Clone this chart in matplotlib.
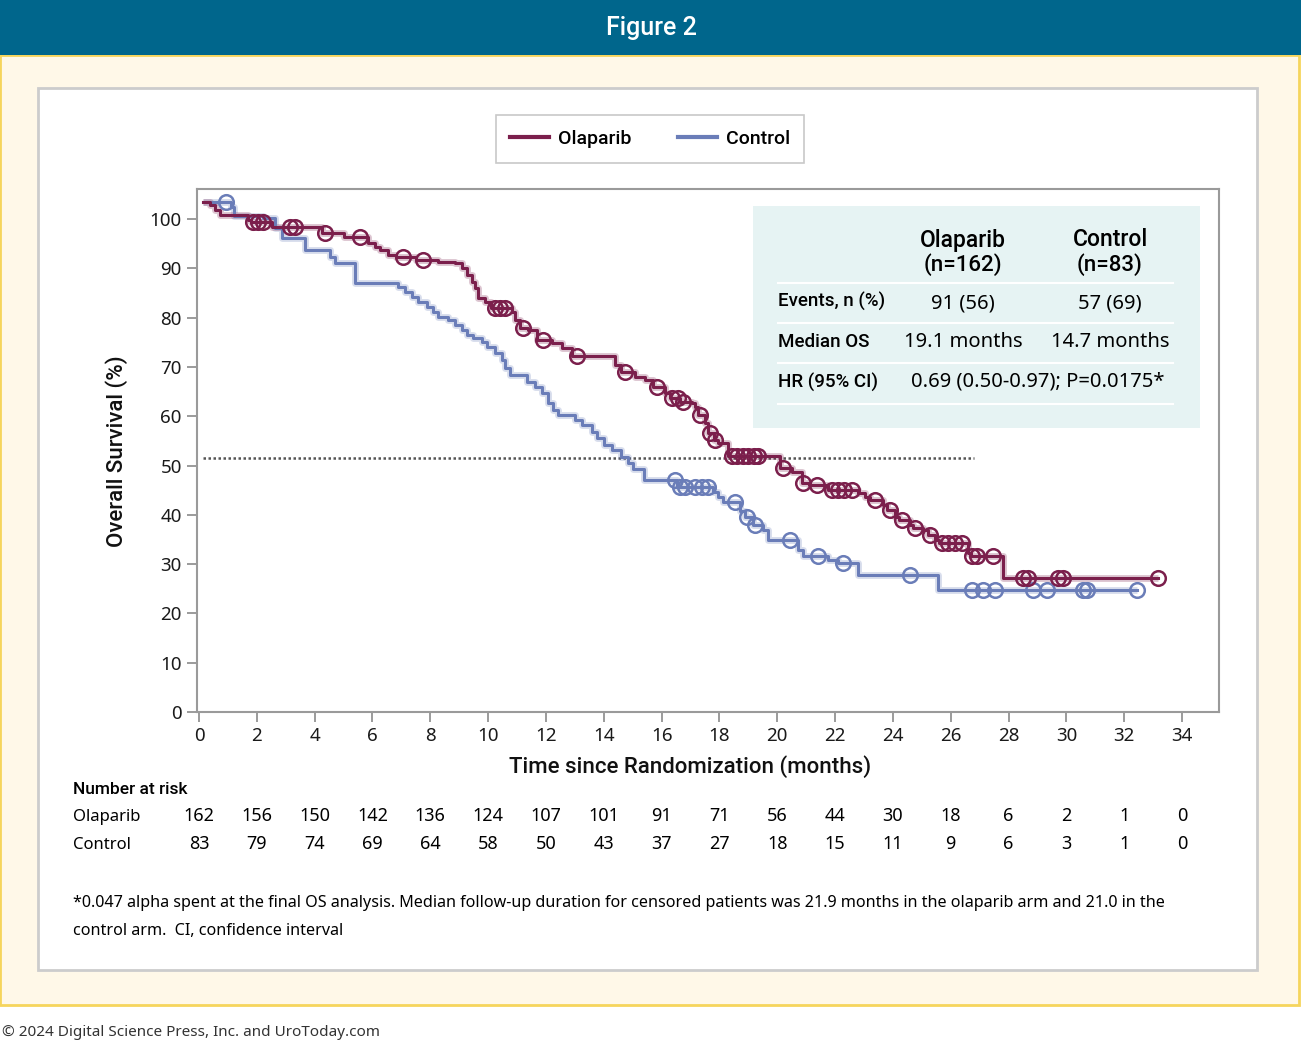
import numpy as np
import matplotlib
matplotlib.use("Agg")
import matplotlib.pyplot as plt
from matplotlib.patches import Rectangle
from matplotlib.lines import Line2D
from matplotlib.transforms import blended_transform_factory

plt.rcParams['font.family'] = ['Noto Sans', 'DejaVu Sans']

# ---------------- data ----------------
start_level = 103.4

ola_times = [0.38, 0.55, 0.73, 1.69, 1.8, 2.53, 4.25, 5.0, 5.85, 6.09, 6.26, 6.54, 6.8, 7.5, 8.27,
             8.86, 9.10, 9.27, 9.44, 9.55, 9.65, 9.89, 10.1, 10.83, 10.93, 11.1, 11.38, 11.7, 12.21, 12.56,
             12.9, 14.39, 14.6, 15.08, 15.43, 15.7, 16.12, 16.3, 16.65, 17.05, 17.16, 17.25, 17.50, 17.6, 17.8,
             17.95, 18.30, 20.1, 20.51, 20.86, 21.1, 21.76, 22.80, 23.04, 23.2, 23.66, 23.8, 24.07, 24.2, 24.59,
             24.7, 25.04, 25.2, 25.46, 25.6, 26.60, 26.7, 27.81]
ola_surv = [102.8, 101.8, 100.9, 99.8, 99.4, 98.4, 97.2, 96.4, 95.1, 94.3, 93.7, 92.7, 92.3, 91.7, 91.3,
            91.1, 90.1, 88.6, 87.2, 86.0, 84.0, 83.2, 81.9, 81.1, 79.5, 77.9, 77.5, 75.5, 74.8, 73.8,
            72.2, 70.4, 69.0, 68.0, 67.3, 65.9, 64.7, 63.8, 62.9, 62.7, 61.9, 60.2, 58.6, 56.6, 55.2,
            54.6, 52.0, 49.6, 48.7, 46.5, 46.0, 45.0, 44.4, 43.6, 43.0, 42.0, 41.0, 39.6, 38.9, 37.9,
            37.3, 36.9, 35.9, 34.9, 34.3, 32.3, 31.6, 27.2]
ola_censored = [1.87, 2.04, 2.21, 3.15, 3.32, 4.36, 5.57, 7.06, 7.75, 10.24, 10.40, 10.58, 11.21, 11.90,
                13.07, 14.74, 15.84, 16.36, 16.57, 16.74, 17.33, 17.68, 17.85, 18.44, 18.6, 18.8, 19.0,
                19.2, 19.34, 20.20, 20.89, 21.38, 21.90, 22.1, 22.3, 22.59, 23.38, 23.90, 24.32, 24.77,
                25.29, 25.70, 25.91, 26.15, 26.39, 26.74, 26.91, 27.46, 28.50, 28.68, 29.71, 29.89, 33.17]

ctrl_times = [1.1, 1.2, 2.2, 2.63, 2.87, 3.67, 4.53, 4.70, 5.40, 6.88, 7.13, 7.37, 7.58, 7.89, 8.09,
              8.27, 8.61, 8.86, 9.10, 9.27, 9.48, 9.79, 9.96, 10.24, 10.48, 10.58, 10.76, 11.35, 11.62, 11.86,
              12.07, 12.24, 12.42, 13.01, 13.25, 13.59, 13.77, 14.0, 14.3, 14.6, 14.84, 15.0, 15.4, 16.55,
              17.78, 17.95, 18.13, 18.71, 18.9, 19.15, 19.51, 19.68, 20.72, 20.9, 21.76, 22.1, 22.8, 25.56]
ctrl_surv = [102.4, 100.6, 100.2, 98.2, 96.1, 93.7, 92.3, 91.1, 87.0, 86.2, 85.2, 84.2, 83.2, 82.2, 81.1,
             80.1, 79.5, 78.5, 77.5, 76.5, 75.9, 75.1, 74.0, 72.8, 71.4, 69.8, 68.4, 66.9, 65.9, 64.7,
             62.7, 61.3, 60.2, 59.2, 58.2, 56.8, 55.6, 54.2, 53.1, 51.7, 50.5, 49.3, 47.1, 45.6,
             44.6, 43.6, 42.6, 40.8, 39.6, 37.9, 36.9, 34.9, 32.9, 31.6, 30.8, 30.2, 27.8, 24.8]
ctrl_censored = [0.93, 16.47, 16.64, 16.81, 17.16, 17.4, 17.6, 18.54, 18.96, 19.23, 20.44, 21.4, 22.28,
                 24.59, 26.74, 27.12, 27.53, 28.85, 29.33, 30.58, 30.72, 32.45]

median_ref_level = 51.5
median_ref_end = 26.8

risk_times = [0, 2, 4, 6, 8, 10, 12, 14, 16, 18, 20, 22, 24, 26, 28, 30, 32, 34]
risk_ola = [162, 156, 150, 142, 136, 124, 107, 101, 91, 71, 56, 44, 30, 18, 6, 2, 1, 0]
risk_ctrl = [83, 79, 74, 69, 64, 58, 50, 43, 37, 27, 18, 15, 11, 9, 6, 3, 1, 0]

x_ticks = list(range(0, 35, 2))
y_ticks = list(range(0, 101, 10))

OLA_C = '#7b1f4c'
CTRL_C = '#6a7db8'

W, H = 1301, 1043
fig = plt.figure(figsize=(W / 100, H / 100), dpi=100)
fig.patch.set_facecolor('white')

def fx(px):
    return px / W

def fy(py):
    return 1 - py / H

MED = dict(family=['Roboto', 'DejaVu Sans'], weight='medium')

# background panels
fig.patches.append(Rectangle((0, fy(1005)), fx(1299), fy(55) - fy(1005), transform=fig.transFigure,
                             facecolor='#fff8e8', edgecolor='#f6d55c', lw=2, zorder=-10))
fig.patches.append(Rectangle((0, fy(55)), 1, 55 / H, transform=fig.transFigure,
                             facecolor='#00668c', edgecolor='none', zorder=-9))
fig.patches.append(Rectangle((fx(38), fy(970)), fx(1257) - fx(38), fy(88) - fy(970), transform=fig.transFigure,
                             facecolor='white', edgecolor='#cccccc', lw=2, zorder=-8))
fig.text(fx(651), fy(28), 'Figure 2', color='white', fontsize=18, ha='center', va='center', **MED)

# main axes
ax = fig.add_axes([fx(197), fy(712), fx(1219) - fx(197), fy(189) - fy(712)])
ax.set_xlim(-0.07, 35.28)
ax.set_ylim(0, 106.1)
for s in ax.spines.values():
    s.set_color('#9a9a9a')
    s.set_linewidth(1.5)
ax.set_xticks(x_ticks)
ax.set_yticks(y_ticks)
ax.tick_params(direction='out', length=7, width=1.2, color='#8a8a8a', labelsize=13.5, labelcolor='#1a1a1a', pad=4)


def km_curve(times, surv, cens, color):
    end = max(cens[-1], times[-1])
    xs = np.concatenate([[0.14], times, [end]])
    ys = np.concatenate([[start_level], surv, [surv[-1]]])
    ax.plot(xs, ys, drawstyle='steps-post', color=color, lw=5, alpha=0.25, solid_capstyle='butt', zorder=2)
    ax.plot(xs, ys, drawstyle='steps-post', color=color, lw=2.2, zorder=3)
    levels = np.concatenate([[start_level], surv])
    idx = np.searchsorted(np.asarray(times), np.asarray(cens), side='right')
    cy = levels[idx]
    ax.plot(cens, cy, linestyle='none', marker='o', ms=10.5, mfc='none', mec=color, mew=1.8, zorder=4)

km_curve(ctrl_times, ctrl_surv, ctrl_censored, CTRL_C)
km_curve(ola_times, ola_surv, ola_censored, OLA_C)

ax.plot([0.14, median_ref_end], [median_ref_level, median_ref_level], color='#555555', lw=1.8,
        linestyle=(0, (1, 1)), zorder=1)

fig.text(fx(117), fy(451), 'Overall Survival (%)', rotation=90, ha='center', va='center',
         fontsize=16, color='#111111', **MED)
fig.text(fx(690), fy(767), 'Time since Randomization (months)', ha='center', va='center',
         fontsize=16, color='#111111', **MED)

# legend
handles = [Line2D([], [], color=OLA_C, lw=3), Line2D([], [], color=CTRL_C, lw=3)]
leg = fig.legend(handles, ['Olaparib', 'Control'], loc='center', bbox_to_anchor=(fx(650), fy(139)),
                 ncol=2, frameon=True, fancybox=False, handlelength=2.0,
                 columnspacing=2.4, borderpad=0.75, borderaxespad=0, handletextpad=0.45,
                 prop=dict(size=14, **MED))
leg.get_frame().set_edgecolor('#bbbbbb')
leg.get_frame().set_linewidth(1.2)

# inset table
tab = fig.add_axes([fx(753), fy(428), fx(1200) - fx(753), fy(206) - fy(428)])
tab.set_facecolor('#e6f3f3')
tab.set_xticks([]); tab.set_yticks([])
for s in tab.spines.values():
    s.set_visible(False)
tab.set_xlim(0, 1); tab.set_ylim(0, 1)

def ty(py):
    return (428 - py) / 222

def tx(px):
    return (px - 753) / 447

for py in (283, 323, 363, 404):
    tab.plot([tx(778), tx(1173)], [ty(py), ty(py)], color='white', lw=1.5)
col1, col2 = tx(963), tx(1110)
tab.text(col1, ty(240), 'Olaparib', ha='center', va='center', fontsize=16.5, **MED)
tab.text(col1, ty(265), '(n=162)', ha='center', va='center', fontsize=16, **MED)
tab.text(col2, ty(240), 'Control', ha='center', va='center', fontsize=16.5, **MED)
tab.text(col2, ty(265), '(n=83)', ha='center', va='center', fontsize=16, **MED)
tab.text(tx(778), ty(301), 'Events, n (%)', ha='left', va='center', fontsize=13.5, **MED)
tab.text(tx(778), ty(342), 'Median OS', ha='left', va='center', fontsize=13.5, **MED)
tab.text(tx(778), ty(382), 'HR (95% CI)', ha='left', va='center', fontsize=13.5, **MED)
tab.text(col1, ty(303), '91 (56)', ha='center', va='center', fontsize=14.5)
tab.text(col2, ty(303), '57 (69)', ha='center', va='center', fontsize=14.5)
tab.text(col1, ty(342), '19.1 months', ha='center', va='center', fontsize=14.5)
tab.text(col2, ty(342), '14.7 months', ha='center', va='center', fontsize=14.5)
tab.text(tx(1038), ty(382), '0.69 (0.50-0.97); P=0.0175*', ha='center', va='center', fontsize=14.5)

# number at risk
tr = blended_transform_factory(ax.transData, fig.transFigure)
fig.text(fx(73), fy(789), 'Number at risk', ha='left', va='center', fontsize=12.5, **MED)
fig.text(fx(73), fy(817), 'Olaparib', ha='left', va='center', fontsize=12)
fig.text(fx(73), fy(845), 'Control', ha='left', va='center', fontsize=12)
for t, a, b in zip(risk_times, risk_ola, risk_ctrl):
    ax.text(t, fy(816), str(a), transform=tr, ha='center', va='center', fontsize=13, clip_on=False)
    ax.text(t, fy(844), str(b), transform=tr, ha='center', va='center', fontsize=13, clip_on=False)

fig.text(fx(73), fy(903), '*0.047 alpha spent at the final OS analysis. Median follow-up duration for censored '
         'patients was 21.9 months in the olaparib arm and 21.0 in the', ha='left', va='center', fontsize=11.6)
fig.text(fx(73), fy(931), 'control arm.  CI, confidence interval', ha='left', va='center', fontsize=11.6)

fig.text(fx(2), fy(1032), '\u00a9 2024 Digital Science Press, Inc. and UroToday.com', ha='left', va='center',
         fontsize=11, color='#333333')

fig.savefig('out.png', dpi=100)
